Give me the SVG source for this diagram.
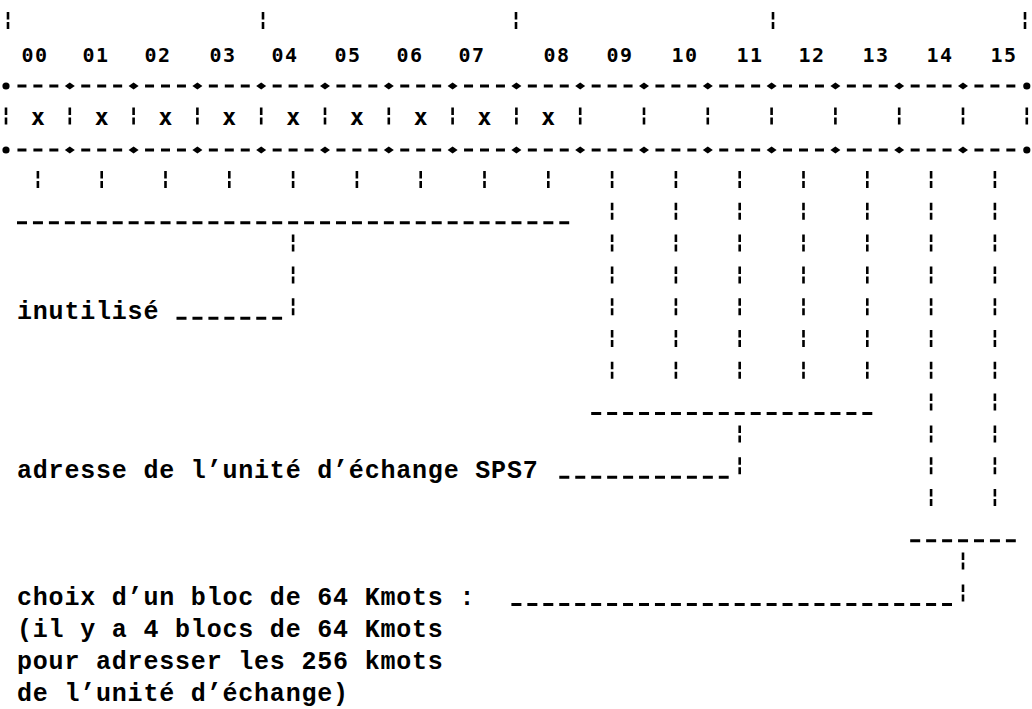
<svg xmlns="http://www.w3.org/2000/svg" width="1032" height="709" viewBox="0 0 1032 709">
<style>
.bg{fill:#fff}
.tk{stroke:#000;stroke-width:2.6;fill:none;stroke-dasharray:7.5 2.5 7 14.8}
.us{stroke:#000;stroke-width:3;fill:none;stroke-dasharray:10 5.95}
.bd{stroke:#000;stroke-width:3;fill:none;stroke-dasharray:9 6.95 9 6.95 9 22.9}
.jn{fill:#000}
.num{font-family:"DejaVu Sans Mono","Liberation Mono",monospace;font-weight:bold;font-size:20px;fill:#000;text-anchor:middle;letter-spacing:1.5px}
.bx{font-family:"DejaVu Sans Mono","Liberation Mono",monospace;font-weight:bold;font-size:23px;fill:#000;text-anchor:middle}
.lb{font-family:"Liberation Mono","Courier New",monospace;font-weight:bold;font-size:25px;fill:#000;letter-spacing:0.8px}
</style>
<defs>
<path id="j" d="M-5,0 L0,-3.5 L5,0 L0,3.5 Z"/>
</defs>
<rect class="bg" x="0" y="0" width="1032" height="709"/>

<g id="top-ticks">
<path class="tk" d="M8,12V29 M263,12V29 M516,12V29 M773,12V29 M1025,12V29"/>
</g>

<g id="bit-numbers">
<text class="num" x="35" y="62">00</text>
<text class="num" x="96" y="62">01</text>
<text class="num" x="158" y="62">02</text>
<text class="num" x="223" y="62">03</text>
<text class="num" x="285" y="62">04</text>
<text class="num" x="348" y="62">05</text>
<text class="num" x="410" y="62">06</text>
<text class="num" x="472" y="62">07</text>
<text class="num" x="557" y="62">08</text>
<text class="num" x="620" y="62">09</text>
<text class="num" x="685" y="62">10</text>
<text class="num" x="750" y="62">11</text>
<text class="num" x="812" y="62">12</text>
<text class="num" x="876" y="62">13</text>
<text class="num" x="940" y="62">14</text>
<text class="num" x="1004" y="62">15</text>
</g>

<g id="register">
<line class="bd" x1="17.45" y1="86" x2="1021.35" y2="86"/>
<line class="bd" x1="17.45" y1="150" x2="1021.35" y2="150"/>
<g class="jn">
<circle cx="6" cy="86" r="3.6"/><circle cx="1026.8" cy="86" r="3.6"/>
<circle cx="6" cy="150" r="3.6"/><circle cx="1026.8" cy="150" r="3.6"/>
<use href="#j" x="69.8" y="86"/><use href="#j" x="133.6" y="86"/><use href="#j" x="197.4" y="86"/><use href="#j" x="261.2" y="86"/>
<use href="#j" x="325" y="86"/><use href="#j" x="388.8" y="86"/><use href="#j" x="452.6" y="86"/><use href="#j" x="516.4" y="86"/>
<use href="#j" x="580.2" y="86"/><use href="#j" x="644" y="86"/><use href="#j" x="707.8" y="86"/><use href="#j" x="771.6" y="86"/>
<use href="#j" x="835.4" y="86"/><use href="#j" x="899.2" y="86"/><use href="#j" x="963" y="86"/>
<use href="#j" x="69.8" y="150"/><use href="#j" x="133.6" y="150"/><use href="#j" x="197.4" y="150"/><use href="#j" x="261.2" y="150"/>
<use href="#j" x="325" y="150"/><use href="#j" x="388.8" y="150"/><use href="#j" x="452.6" y="150"/><use href="#j" x="516.4" y="150"/>
<use href="#j" x="580.2" y="150"/><use href="#j" x="644" y="150"/><use href="#j" x="707.8" y="150"/><use href="#j" x="771.6" y="150"/>
<use href="#j" x="835.4" y="150"/><use href="#j" x="899.2" y="150"/><use href="#j" x="963" y="150"/>
</g>
<path class="tk" d="M6,107.4V124.4 M69.8,107.4V124.4 M133.6,107.4V124.4 M197.4,107.4V124.4 M261.2,107.4V124.4 M325,107.4V124.4 M388.8,107.4V124.4 M452.6,107.4V124.4 M516.4,107.4V124.4 M580.2,107.4V124.4 M644,107.4V124.4 M707.8,107.4V124.4 M771.6,107.4V124.4 M835.4,107.4V124.4 M899.2,107.4V124.4 M963,107.4V124.4 M1026.8,107.4V124.4"/>
<text class="bx" x="37.9" y="125">x</text>
<text class="bx" x="101.7" y="125">x</text>
<text class="bx" x="165.5" y="125">x</text>
<text class="bx" x="229.3" y="125">x</text>
<text class="bx" x="293.1" y="125">x</text>
<text class="bx" x="356.9" y="125">x</text>
<text class="bx" x="420.7" y="125">x</text>
<text class="bx" x="484.5" y="125">x</text>
<text class="bx" x="548.3" y="125">x</text>
</g>

<g id="connectors">
<path class="tk" d="M37.9,171V188 M101.7,171V188 M165.5,171V188 M229.3,171V188 M293.1,171V188 M356.9,171V188 M420.7,171V188 M484.5,171V188 M548.3,171V188"/>
<path class="tk" d="M293.1,234.6V315.2"/>
<path class="tk" d="M612.1,171V378.8 M675.9,171V378.8 M739.7,171V378.8 M803.5,171V378.8 M867.3,171V378.8"/>
<path class="tk" d="M931.1,171V506 M994.9,171V506"/>
<path class="tk" d="M739.7,425.4V474.2"/>
<path class="tk" d="M963,552.6V601.4"/>
<line class="us" x1="17" y1="222.8" x2="569.2" y2="222.8"/>
<line class="us" x1="176.5" y1="318.2" x2="282.1" y2="318.2"/>
<line class="us" x1="591.2" y1="413.6" x2="872.3" y2="413.6"/>
<line class="us" x1="559.3" y1="477.2" x2="728.7" y2="477.2"/>
<line class="us" x1="910.2" y1="540.8" x2="1015.8" y2="540.8"/>
<line class="us" x1="511.4" y1="604.4" x2="952" y2="604.4"/>
</g>

<g id="label-inutilise">
<text class="lb" x="17" y="319">inutilisé</text>
</g>
<g id="label-adresse">
<text class="lb" x="17" y="478">adresse de l’unité d’échange SPS7</text>
</g>
<g id="label-choix">
<text class="lb" x="17" y="605">choix d’un bloc de 64 Kmots :</text>
<text class="lb" x="17" y="637">(il y a 4 blocs de 64 Kmots</text>
<text class="lb" x="17" y="669">pour adresser les 256 kmots</text>
<text class="lb" x="17" y="701">de l’unité d’échange)</text>
</g>
</svg>
